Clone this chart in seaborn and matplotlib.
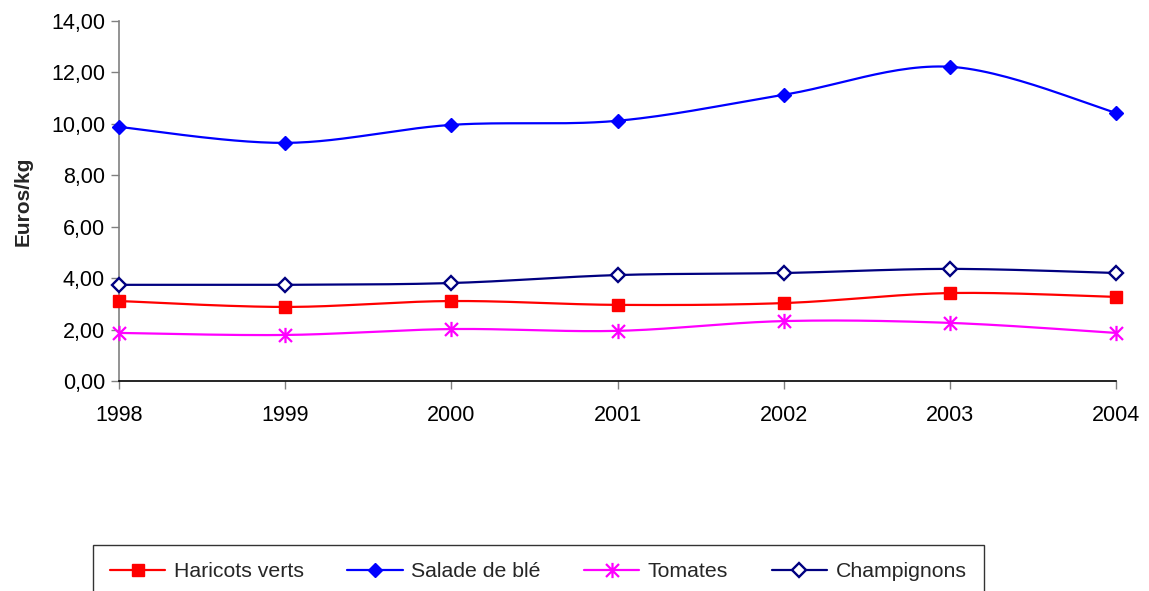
import numpy as np
import pandas as pd
import matplotlib
matplotlib.use("Agg")
import matplotlib.pyplot as plt
from matplotlib.path import Path
from matplotlib.lines import Line2D
from matplotlib.ticker import FuncFormatter, MultipleLocator
import seaborn as sns

years = [1998, 1999, 2000, 2001, 2002, 2003, 2004]
haricots = [3.11, 2.88, 3.11, 2.96, 3.03, 3.42, 3.27]
salade = [9.88, 9.26, 9.96, 10.12, 11.13, 12.22, 10.43]
tomates = [1.87, 1.79, 2.02, 1.95, 2.33, 2.26, 1.87]
champignons = [3.74, 3.74, 3.81, 4.12, 4.20, 4.36, 4.20]
series_names = ["Haricots verts", "Salade de blé", "Tomates", "Champignons"]

sns.set_style("white")
plt.rcParams["font.family"] = ["Liberation Sans", "DejaVu Sans"]

asterisk = Path([(0, -1), (0, 1), (-0.85, -0.85), (0.85, 0.85), (-0.85, 0.85), (0.85, -0.85)],
                [Path.MOVETO, Path.LINETO, Path.MOVETO, Path.LINETO, Path.MOVETO, Path.LINETO])

styles = [
    dict(color="#FF0000", marker="s", ms=9, mfc="#FF0000", mec="#FF0000", mew=1),
    dict(color="#0000FF", marker="D", ms=6.8, mfc="#0000FF", mec="#0000FF", mew=1),
    dict(color="#FF00FF", marker=asterisk, ms=11, mfc="none", mec="#FF00FF", mew=1.6),
    dict(color="#000080", marker="D", ms=6.8, mfc="white", mec="#000080", mew=1.7),
]


def excel_smooth(x, y, n=30):
    x = np.asarray(x, float)
    y = np.asarray(y, float)
    P = np.column_stack([x, y])
    ext = np.vstack([P[0], P, P[-1]])
    out = []
    t = np.linspace(0, 1, n)[:, None]
    for i in range(len(P) - 1):
        p0, p1, p2, p3 = ext[i], ext[i + 1], ext[i + 2], ext[i + 3]
        c1 = p1 + (p2 - p0) / 6
        c2 = p2 - (p3 - p1) / 6
        seg = ((1 - t) ** 3) * p1 + 3 * ((1 - t) ** 2) * t * c1 + 3 * (1 - t) * t ** 2 * c2 + t ** 3 * p2
        out.append(seg if i == 0 else seg[1:])
    s = np.vstack(out)
    return s[:, 0], s[:, 1]


fig = plt.figure(figsize=(11.49, 5.91), dpi=100)
ax = fig.add_axes([119 / 1149, 1 - 381 / 591, (1116 - 119) / 1149, (381 - 21) / 591])

data = [haricots, salade, tomates, champignons]
handles = []
for name, vals, st in zip(series_names, data, styles):
    sx, sy = excel_smooth(years, vals)
    df = pd.DataFrame({"x": sx, "y": sy})
    sns.lineplot(data=df, x="x", y="y", ax=ax, color=st["color"], lw=1.6, sort=False, estimator=None)
    ax.plot(years, vals, linestyle="none", marker=st["marker"], ms=st["ms"], mfc=st["mfc"],
            mec=st["mec"], mew=st["mew"], zorder=5, clip_on=False)
    handles.append(Line2D([], [], color=st["color"], lw=1.6, marker=st["marker"], ms=st["ms"],
                          mfc=st["mfc"], mec=st["mec"], mew=st["mew"], label=name))

ax.set_xlim(1998, 2004)
ax.set_ylim(0, 14)
ax.set_xticks(years)
ax.set_xticklabels([str(y) for y in years])
ax.yaxis.set_major_locator(MultipleLocator(2))
ax.yaxis.set_major_formatter(FuncFormatter(lambda v, p: f"{v:.2f}".replace(".", ",")))

for s in ["top", "right"]:
    ax.spines[s].set_visible(False)
ax.spines["left"].set_color("#808080")
ax.spines["left"].set_linewidth(1.2)
ax.spines["bottom"].set_color("black")
ax.spines["bottom"].set_linewidth(1.2)
ax.tick_params(axis="y", direction="out", length=6, width=1, color="#808080", pad=4,
               labelsize=15.5, labelcolor="black", left=True)
ax.tick_params(axis="x", direction="out", length=6, width=1, color="#808080", pad=11,
               labelsize=15.5, labelcolor="black", bottom=True)
ax.set_xlabel("")
ax.set_ylabel("Euros/kg", fontsize=15, fontweight="bold")
ax.yaxis.set_label_coords(-0.087, 0.5)

leg = fig.legend(handles=handles, loc="upper left", bbox_to_anchor=(93 / 1149, 1 - 545 / 591),
                 ncol=4, frameon=True, fancybox=False, fontsize=15.3, handlelength=2.6,
                 handletextpad=0.4, columnspacing=2.05, borderpad=0.8, borderaxespad=0)
leg.get_frame().set_edgecolor("black")
leg.get_frame().set_linewidth(1.0)

fig.savefig("out.png", dpi=100)
